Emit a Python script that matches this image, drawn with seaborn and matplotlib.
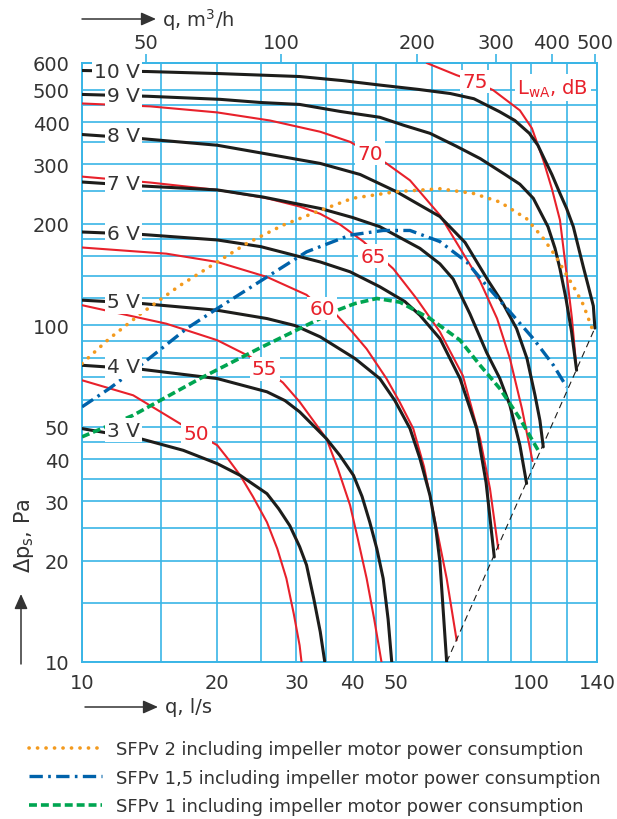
import matplotlib
matplotlib.use("Agg")
import matplotlib.pyplot as plt
import matplotlib.ticker as mticker
from matplotlib.patches import FancyArrowPatch
import seaborn as sns

# ---- fan curves (q in l/s, dp in Pa) ----
q_10v = [10, 14, 20.3, 30.5, 38, 46, 56, 66, 74.5, 85, 91.9, 99, 103.4, 107.2, 111.1, 115.8, 119.8, 124, 130.5, 134, 137.4, 138.5]
p_10v = [570, 566, 558, 547, 532, 516, 501, 487, 470, 430, 405, 371, 342, 309, 280, 246, 222, 196, 149, 130, 114, 98]
q_9v = [10, 14, 20.3, 25, 30.5, 37.5, 46, 52, 59.5, 68, 77, 87.4, 94.3, 101, 108.9, 112.9, 115.8, 119.4, 122.9, 126.1]
p_9v = [484, 478, 468, 458, 452, 431, 414, 392, 371, 340, 312, 280, 262, 238, 196, 169, 147, 120, 95.5, 73.5]
q_8v = [10, 13.5, 20, 28, 33.9, 41.6, 50.1, 62.6, 71.2, 80.1, 86.5, 92.7, 97.8, 101.9, 104.5, 106.3]
p_8v = [368, 358, 342, 316, 302, 280, 249, 210, 176, 135.7, 115.9, 97.7, 79.6, 61.9, 52.1, 43.5]
q_7v = [10, 13.5, 20, 25.3, 33.9, 40, 46, 56.5, 62.6, 67, 73, 79.5, 85.1, 89.6, 94.3, 97.6]
p_7v = [266, 259, 252, 240, 222, 208.7, 196, 169, 152, 137, 108, 83, 69.4, 57.8, 44, 33.9]
q_6v = [10, 13.5, 20, 25, 33.9, 39.5, 46, 52.3, 56.5, 62.6, 69.4, 75.6, 79.3, 82.7]
p_6v = [189, 186, 179, 171, 154, 144, 130, 117.5, 107, 91.2, 69.4, 49.3, 34.1, 20.5]
q_5v = [10, 13.5, 20, 25.8, 29.8, 33.9, 40.5, 46, 49.7, 53.7, 56.5, 59.5, 61.3, 62.6, 64.8]
p_5v = [118.6, 116, 110.7, 104.6, 99.7, 92.3, 79.6, 69.4, 59.7, 49.3, 40.2, 31.2, 24.9, 19.8, 10]
q_4v = [10, 13.5, 20, 25.8, 28.3, 30.5, 35, 37.5, 40.2, 42, 43.7, 45.3, 46.8, 48, 48.9]
p_4v = [76, 74, 69.4, 63.4, 59.7, 55.3, 46, 41, 35.8, 31, 26, 21.7, 17.7, 13.4, 10]
q_3v = [10, 13.5, 16.8, 20, 22.5, 25.8, 27.4, 29, 30.5, 31.6, 32.8, 33.9, 34.7]
p_3v = [49.3, 46, 42.5, 38.8, 35.8, 31.6, 28.5, 25.4, 22, 19.4, 15.4, 12.3, 10]

volt_names = ["10 V", "9 V", "8 V", "7 V", "6 V", "5 V", "4 V", "3 V"]

# ---- sound power level lines L_wA, dB ----
q_75 = [58.5, 68.2, 74.9, 82.3, 94.3, 100.3, 106.3, 111.1, 115.8, 119.8, 123.1, 126.1]
p_75 = [600, 552, 529, 498, 434, 384, 309, 254, 205, 142, 105, 73.5]
q_70 = [10, 14.2, 20, 26.2, 33.9, 39.5, 43.7, 47.6, 53.7, 62.6, 69.4, 76.9, 83.9, 89.6, 95.3, 100.6]
p_70 = [455, 446, 428, 405, 375, 350, 324, 302, 269, 212, 169, 135, 104.6, 79.6, 56.5, 39.5]
q_65 = [10, 14.2, 20, 25.8, 30.5, 33.9, 37.5, 42.3, 49.3, 55.5, 62.6, 70.4, 76.9, 80.9, 84.4]
p_65 = [276, 265, 252, 238, 225, 214, 199, 177, 147, 120, 95.5, 70.8, 46, 32.7, 21.7]
q_60 = [10, 15.4, 20, 25.8, 31.6, 34.2, 36.9, 39.7, 43, 47.6, 51, 54.6, 57.7, 60.5, 64.8, 68.2]
p_60 = [170, 163, 154, 139, 123, 112, 107, 96.4, 85, 69.4, 58.9, 49.3, 38, 27.9, 17.7, 11.6]
q_55 = [10, 15.4, 20, 23.7, 25.5, 28, 30.5, 35, 37.1, 39.5, 41.1, 43, 44.7, 46.4]
p_55 = [114.6, 101, 90.2, 80.5, 74.3, 67.5, 59.2, 46, 37.5, 29.2, 23.2, 17.7, 13.4, 10]
q_50 = [10, 13, 15.4, 18, 20, 21.1, 22.5, 24, 25.8, 27.2, 28.5, 29.6, 30.5, 30.8]
p_50 = [68.6, 61.9, 54, 47.6, 44, 40.2, 35.8, 31, 26, 21.7, 17.7, 13.9, 11.2, 10]

db_names = ["75", "70", "65", "60", "55", "50"]
db_label_q = [74.9, 43.7, 44.4, 34.2, 25.5, 18.0]
db_label_p = [529, 324, 160, 112, 74.3, 47.6]

# ---- SFPv lines ----
q_sfp2 = [10, 11.5, 13.5, 16.5, 20, 23.3, 28, 33.3, 40, 50.1, 62.6, 74.3, 85.1, 97.6, 106.3, 113, 119.8, 125, 130.5, 137.4]
p_sfp2 = [76.9, 91.2, 108, 131, 154, 175, 198, 217, 238, 249, 254, 246, 232, 207, 181, 161, 141, 128, 115, 95.5]
q_sfp15 = [10, 11.5, 13.5, 17.1, 20, 25.8, 31.6, 39.5, 46.8, 53.7, 62.6, 71.8, 79.5, 89.6, 101, 112, 119.8]
p_sfp15 = [57.2, 64.8, 76, 97.7, 112, 139, 165, 185, 191, 191, 177, 154, 131, 109.5, 91.2, 76, 65.6]
q_sfp1 = [10, 13, 18.3, 25, 33.9, 36.2, 40.5, 45.3, 51, 59.5, 69.4, 76.9, 85.1, 94.3, 104.5]
p_sfp1 = [46.6, 54, 69.4, 85.8, 104.6, 109.5, 115.9, 120, 117, 104.6, 90.2, 76, 64.8, 52.8, 41.6]

sfp_labels = ["SFPv 2 including impeller motor power consumption",
              "SFPv 1,5 including impeller motor power consumption",
              "SFPv 1 including impeller motor power consumption"]

# operating limit
q_limit = [64.8, 138.5]
p_limit = [10, 98]

# axes ticks / grid
x_ticks = [10, 20, 30, 40, 50, 100, 140]
x_grid = [15, 25, 35, 45, 60, 70, 80, 90, 120]
y_ticks = [10, 20, 30, 40, 50, 100, 200, 300, 400, 500, 600]
y_grid = [15, 25, 35, 45, 60, 70, 80, 90, 120, 140, 160, 180, 250, 350, 450]
top_ticks = [50, 100, 200, 300, 400, 500]

sns.set_style("white")
plt.rcParams["font.family"] = ["DejaVu Sans"]
plt.rcParams["mathtext.default"] = "regular"

GRID = "#3ab5e6"
TXT = "#333333"
RED = "#e8212b"
BLK = "#1d1d1b"
ORANGE = "#f39a1e"
BLUE = "#0062aa"
GREEN = "#00a551"

fig = plt.figure(figsize=(6.17, 8.2), dpi=100)
ax = fig.add_axes([82 / 617, 1 - 663 / 820, 515 / 617, 599 / 820])
ax.set_xscale("log")
ax.set_yscale("log")


def draw(q, p, **kw):
    sns.lineplot(x=q, y=p, ax=ax, sort=False, estimator=None, legend=False,
                 solid_joinstyle="round", dash_joinstyle="round", **kw)
    return ax.lines[-1]


for q, p in [(q_75, p_75), (q_70, p_70), (q_65, p_65), (q_60, p_60), (q_55, p_55), (q_50, p_50)]:
    draw(q, p, color=RED, lw=1.5, zorder=3)

draw(q_limit, p_limit, color=BLK, lw=0.8, ls=(0, (6, 4)), zorder=3)

volt_q = [q_10v, q_9v, q_8v, q_7v, q_6v, q_5v, q_4v, q_3v]
volt_p = [p_10v, p_9v, p_8v, p_7v, p_6v, p_5v, p_4v, p_3v]
for q, p in zip(volt_q, volt_p):
    draw(q, p, color=BLK, lw=2.2, zorder=4)

h2 = draw(q_sfp2, p_sfp2, color=ORANGE, lw=2.6, ls=(0, (0.05, 2.3)),
          dash_capstyle="round", zorder=5)
h15 = draw(q_sfp15, p_sfp15, color=BLUE, lw=2.4, ls=(0, (4, 1.6, 0.8, 1.6)), zorder=5)
h1 = draw(q_sfp1, p_sfp1, color=GREEN, lw=2.6, ls=(0, (2.2, 1.1)), zorder=5)

box = dict(boxstyle="square,pad=0.12", fc="white", ec="none")
for name, q, p in zip(volt_names, volt_q, volt_p):
    ax.text(13.46, p[0] * 0.99, name, ha="right", va="center", fontsize=14.5,
            color=TXT, bbox=box, zorder=6)
for name, q, p in zip(db_names, db_label_q, db_label_p):
    ax.text(q, p, name, ha="center", va="center", fontsize=14.5, color=RED,
            bbox=box, zorder=6)
ax.text(111.7, 508, "L$_{wA}$, dB", ha="center", va="center", fontsize=14,
        color=RED, bbox=box, zorder=6)

ax.set_xlim(10, 140)
ax.set_ylim(10, 600)
ax.set_xlabel("")
ax.set_ylabel("")

ax.xaxis.set_major_locator(mticker.FixedLocator(x_ticks))
ax.xaxis.set_minor_locator(mticker.FixedLocator(x_grid))
ax.xaxis.set_major_formatter(mticker.FormatStrFormatter("%d"))
ax.xaxis.set_minor_formatter(mticker.NullFormatter())
ax.yaxis.set_major_locator(mticker.FixedLocator(y_ticks))
ax.yaxis.set_minor_locator(mticker.FixedLocator(y_grid))
ax.yaxis.set_major_formatter(mticker.FormatStrFormatter("%d"))
ax.yaxis.set_minor_formatter(mticker.NullFormatter())
ax.grid(True, which="both", color=GRID, lw=1.2, zorder=0)
ax.set_axisbelow(True)
ax.tick_params(which="major", width=1.2, color=GRID, direction="out",
               labelsize=14, labelcolor=TXT, pad=3)
ax.tick_params(axis="y", which="major", length=6)
ax.tick_params(axis="x", which="major", length=5)
ax.tick_params(which="minor", length=0)
for s in ax.spines.values():
    s.set_color(GRID)
    s.set_linewidth(1.4)

sec = ax.secondary_xaxis("top", functions=(lambda q: q * 3.6, lambda m: m / 3.6))
sec.xaxis.set_major_locator(mticker.FixedLocator(top_ticks))
sec.xaxis.set_minor_locator(mticker.NullLocator())
sec.xaxis.set_major_formatter(mticker.FormatStrFormatter("%d"))
sec.tick_params(length=6.5, width=1.2, color=GRID, direction="out",
                labelsize=14, labelcolor=TXT, pad=1.5)
sec.spines["top"].set_color(GRID)
sec.spines["top"].set_linewidth(1.4)


def arrow(x0, y0, x1, y1):
    fig.add_artist(FancyArrowPatch((x0 / 617, 1 - y0 / 820), (x1 / 617, 1 - y1 / 820),
                                   transform=fig.transFigure, color=TXT, lw=1.1,
                                   arrowstyle="-|>,head_length=9,head_width=4",
                                   shrinkA=0, shrinkB=0, mutation_scale=1))


arrow(82, 20, 156, 20)
fig.text(162 / 617, 1 - 20 / 820, "q, m$^3$/h", fontsize=14, color=TXT, va="center")
arrow(85, 708, 158, 708)
fig.text(165 / 617, 1 - 708 / 820, "q, l/s", fontsize=14, color=TXT, va="center")
arrow(21, 665, 21, 595)
fig.text(24 / 617, 1 - 536 / 820, "Δp$_s$, Pa", fontsize=15, color=TXT,
         rotation=90, va="center", ha="center")

fig.legend(handles=[h2, h15, h1], labels=sfp_labels, loc="upper left",
           bbox_to_anchor=(29 / 617, 1 - 741 / 820), frameon=False, fontsize=12.9,
           handlelength=4.1, handletextpad=0.78, labelspacing=0.6,
           borderpad=0, borderaxespad=0, labelcolor=TXT)

fig.savefig("out.png", dpi=100)
